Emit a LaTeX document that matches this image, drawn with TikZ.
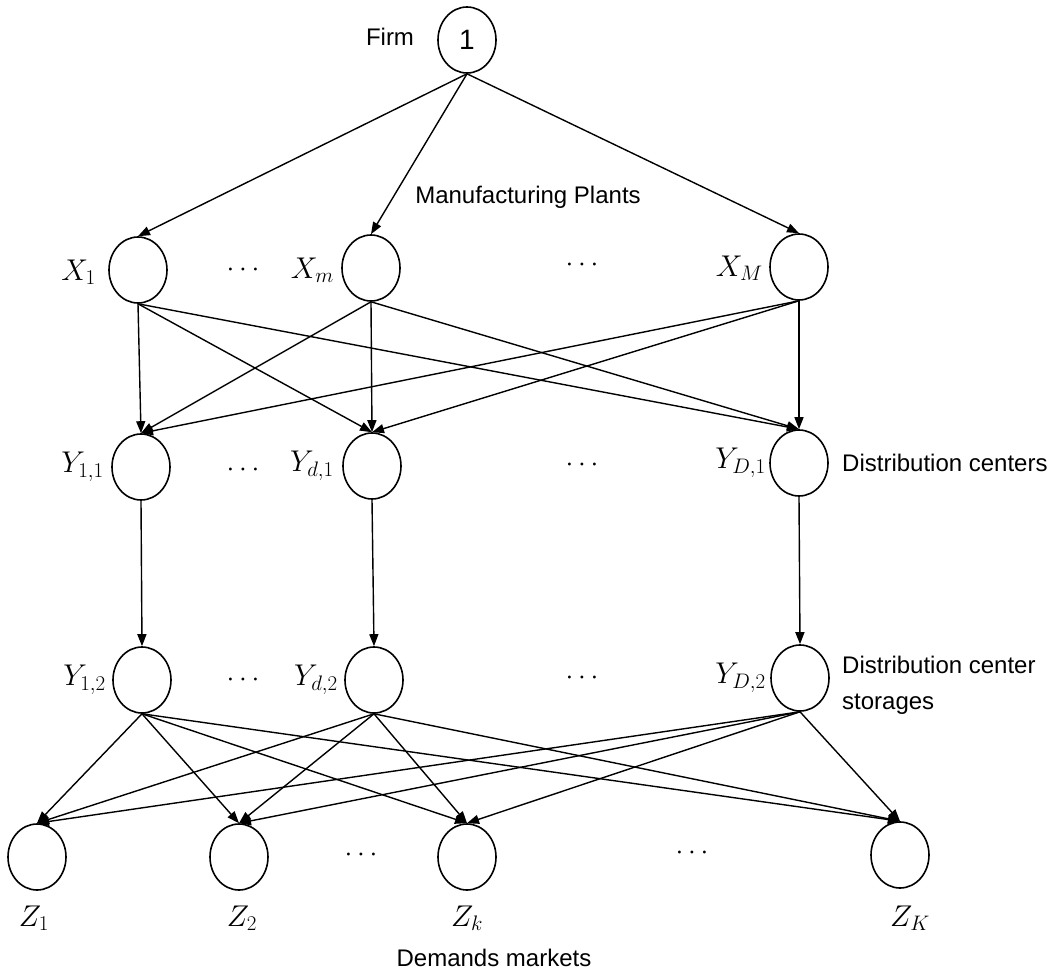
\RequirePackage{fix-cm}
\documentclass[tikz,border=0pt]{standalone}
\usepackage{fontspec}
\setmainfont{Liberation Sans}
\usetikzlibrary{arrows.meta,shapes.geometric}
\begin{document}
\begin{tikzpicture}[x=1pt,y=-1pt,
  vtx/.style={draw,ellipse,line width=1.6pt,minimum width=58pt,minimum height=66pt,inner sep=0pt},
  edge/.style={line width=1.4pt,-{Triangle[length=12pt,width=9pt]}},
  mlab/.style={anchor=east,inner sep=0pt,font=\fontsize{30}{34}\selectfont},
  zlab/.style={inner sep=0pt,font=\fontsize{30}{34}\selectfont},
  txt/.style={inner sep=0pt,font=\fontsize{24}{30}\selectfont},
  dotsn/.style={inner sep=0pt,font=\fontsize{28}{32}\selectfont}]
\useasboundingbox (0,0) rectangle (1055,974);
% nodes
\node[vtx,font=\fontsize{28}{32}\selectfont] (F) at (467,40) {1};
\node[vtx] (X1) at (138,270) {};
\node[vtx] (Xm) at (371,268) {};
\node[vtx] (XM) at (799,267) {};
\node[vtx] (Y11) at (141,467) {};
\node[vtx] (Yd1) at (372,466) {};
\node[vtx] (YD1) at (799,463) {};
\node[vtx] (Y12) at (142,680) {};
\node[vtx] (Yd2) at (374,680) {};
\node[vtx] (YD2) at (800,678) {};
\node[vtx] (Z1) at (37,857) {};
\node[vtx] (Z2) at (239,857) {};
\node[vtx] (Zk) at (467,857) {};
\node[vtx] (ZK) at (900,855) {};
% labels
\node[txt] (tfirm) at (390,37) {Firm};
\node[txt] (tman) at (528,197) {Manufacturing Plants};
\node[txt,anchor=west] (tdc) at (842,463) {Distribution centers};
\node[txt,anchor=west,align=left] (tdcs) at (842,685) {Distribution center\\[6pt]storages};
\node[txt] (tdm) at (494,958) {Demands markets};
\node[mlab] (lX1) at (96,272) {$X_1$};
\node[mlab] (lXm) at (334,270) {$X_m$};
\node[mlab] (lXM) at (763,268) {$X_M$};
\node[mlab] (lY11) at (104,467) {$Y_{1,1}$};
\node[mlab] (lYd1) at (334,466) {$Y_{d,1}$};
\node[mlab] (lYD1) at (766,463) {$Y_{D,1}$};
\node[mlab] (lY12) at (106,680) {$Y_{1,2}$};
\node[mlab] (lYd2) at (338,680) {$Y_{d,2}$};
\node[mlab] (lYD2) at (766,678) {$Y_{D,2}$};
\node[zlab] (lZ1) at (34,918) {$Z_1$};
\node[zlab] (lZ2) at (242,918) {$Z_2$};
\node[zlab] (lZk) at (467,918) {$Z_k$};
\node[zlab] (lZK) at (910,918) {$Z_K$};
% dots
\node[dotsn] (d1) at (243,270) {$\cdots$};
\node[dotsn] (d2) at (582,265) {$\cdots$};
\node[dotsn] (d3) at (243,470) {$\cdots$};
\node[dotsn] (d4) at (582,465) {$\cdots$};
\node[dotsn] (d5) at (243,680) {$\cdots$};
\node[dotsn] (d6) at (582,678) {$\cdots$};
\node[dotsn] (d7) at (361,855) {$\cdots$};
\node[dotsn] (d8) at (692,853) {$\cdots$};
% edges
\foreach \t in {X1,Xm,XM} \draw[edge] (F.south) -- (\t.north);
\foreach \s in {X1,Xm,XM} \foreach \t in {Y11,Yd1,YD1} \draw[edge] (\s.south) -- (\t.north);
\draw[edge] (Y11.south) -- (Y12.north);
\draw[edge] (Yd1.south) -- (Yd2.north);
\draw[edge] (YD1.south) -- (YD2.north);
\foreach \s in {Y12,Yd2,YD2} \foreach \t in {Z1,Z2,Zk,ZK} \draw[edge] (\s.south) -- (\t.north);
\end{tikzpicture}
\end{document}
